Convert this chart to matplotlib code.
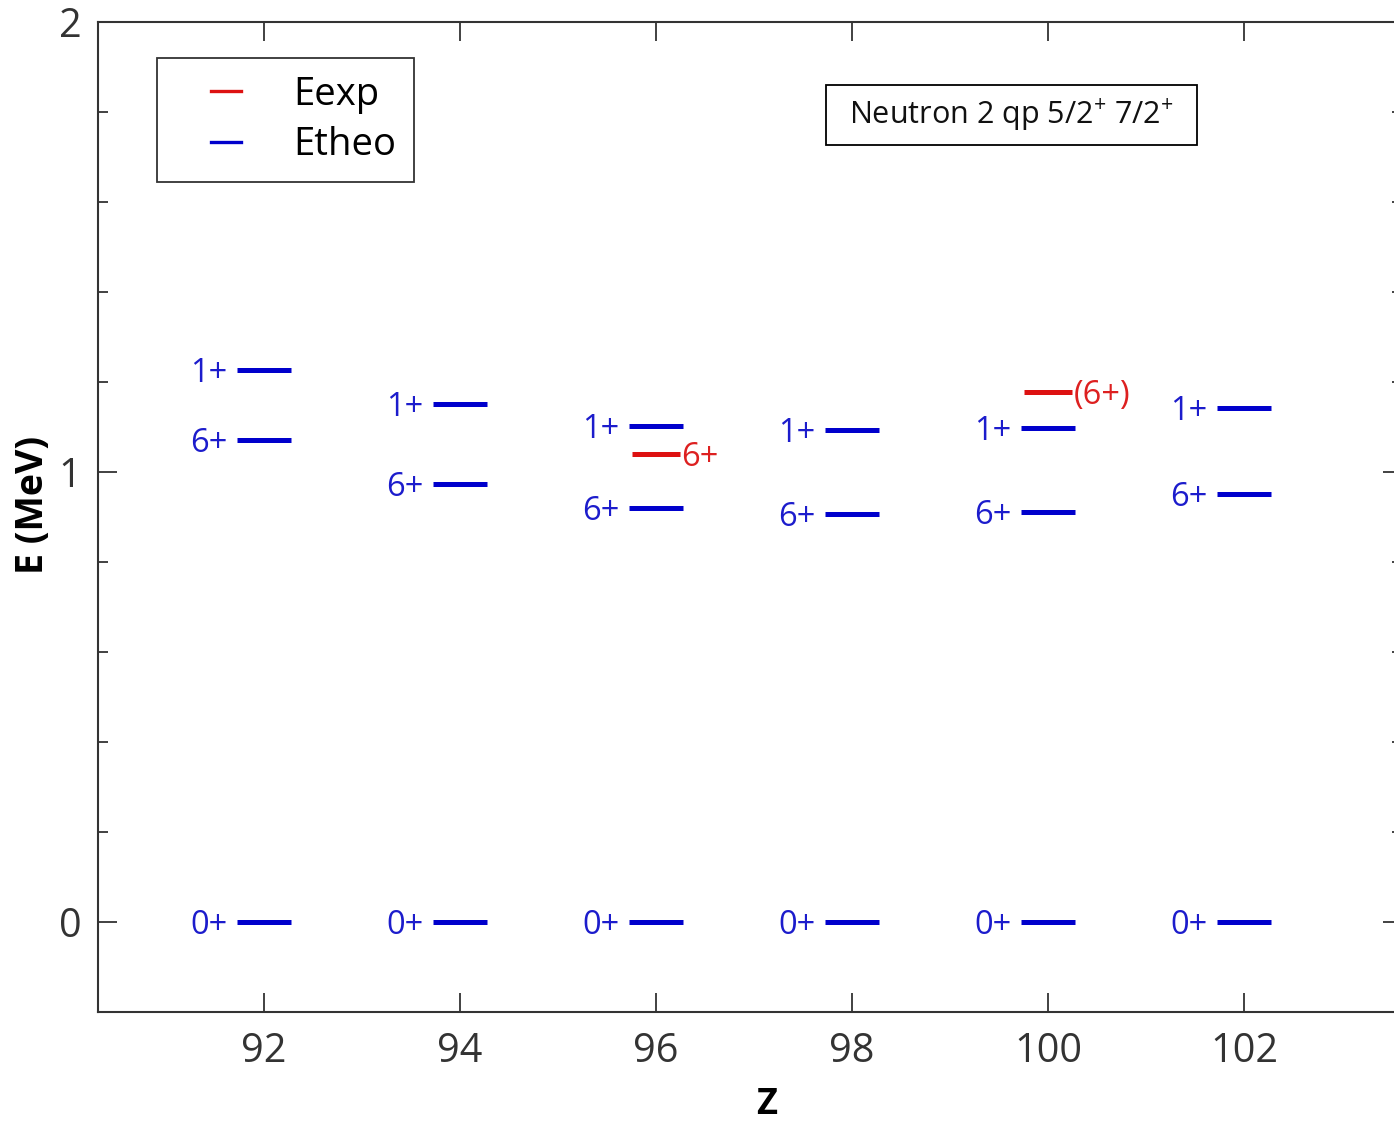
import matplotlib
matplotlib.use("Agg")
import matplotlib.pyplot as plt
from matplotlib.lines import Line2D
from matplotlib.patches import Rectangle
from matplotlib.legend_handler import HandlerBase
from matplotlib.ticker import MultipleLocator, FixedLocator

plt.rcParams['font.family'] = ['Open Sans', 'DejaVu Sans']
plt.rcParams['mathtext.fontset'] = 'custom'
plt.rcParams['mathtext.rm'] = 'Open Sans'

# ---- data ----
Z = [92, 94, 96, 98, 100, 102]
theo_0 = [0.0, 0.0, 0.0, 0.0, 0.0, 0.0]
theo_6 = [1.071, 0.973, 0.920, 0.907, 0.911, 0.951]
theo_1 = [1.227, 1.151, 1.102, 1.093, 1.098, 1.142]
theo_labels = ['0+', '6+', '1+']
exp_Z = [96, 100]
exp_E = [1.040, 1.178]
exp_labels = ['6+', '(6+)']
xticks = [92, 94, 96, 98, 100, 102]
yticks = [0, 1, 2]
title_text = r'Neutron 2 qp 5/2$^{+}$ 7/2$^{+}$'

blue = '#0000cc'
blue_txt = '#1c1ccc'
red = '#dd1111'
red_txt = '#dd2020'
gray = '#333333'


class ShortLineHandler(HandlerBase):
    def create_artists(self, legend, orig_handle, xdescent, ydescent,
                       width, height, fontsize, trans):
        y = height / 2.0 - ydescent
        x0 = -xdescent + 0.54 * width
        x1 = -xdescent + width
        line = Line2D([x0, x1], [y, y], color=orig_handle.get_color(),
                      linewidth=orig_handle.get_linewidth(), transform=trans)
        return [line]


fig = plt.figure(figsize=(13.94, 11.22), dpi=100)
ax = fig.add_axes([98/1394, 1-1012/1122, (1402-98)/1394, (1012-22)/1122])

hw_t = 0.275
hw_e = 0.245
for series, lab in zip([theo_0, theo_6, theo_1], theo_labels):
    ax.hlines(series, [z - hw_t for z in Z], [z + hw_t for z in Z],
              colors=blue, linewidth=3.6)
    for z, e in zip(Z, series):
        ax.annotate(lab, (z - hw_t, e), xytext=(-7, -2.5), textcoords='offset points',
                    ha='right', va='center', color=blue_txt, fontsize=23.5)

ax.hlines(exp_E, [z - hw_e for z in exp_Z], [z + hw_e for z in exp_Z],
          colors=red, linewidth=3.6)
for z, e, lab in zip(exp_Z, exp_E, exp_labels):
    ax.annotate(lab, (z + hw_e, e), xytext=(1, -2.5), textcoords='offset points',
                ha='left', va='center', color=red_txt, fontsize=23.5)

ax.set_xlim(90.306, 103.61)
ax.set_ylim(-0.2, 2.0)
ax.xaxis.set_major_locator(FixedLocator(xticks))
ax.yaxis.set_major_locator(FixedLocator(yticks))
ax.yaxis.set_minor_locator(MultipleLocator(0.2))
ax.tick_params(axis='both', which='major', direction='in', length=13.5, width=1.3,
               color=gray, labelcolor=gray, labelsize=28.5, pad=14,
               top=True, right=True)
ax.tick_params(axis='y', which='major', pad=12)
ax.tick_params(axis='y', which='minor', direction='in', length=7, width=1.3,
               color=gray, right=True)
ax.tick_params(axis='x', which='minor', bottom=False, top=False)
for s in ax.spines.values():
    s.set_color(gray)
    s.set_linewidth(1.5)

ax.set_xlabel('Z', fontsize=26, fontweight='bold', color='black')
ax.set_ylabel('E (MeV)', fontsize=27, fontweight='bold', color='black')
ax.xaxis.label.set_va('center')
ax.yaxis.label.set_va('center')
ax.xaxis.set_label_coords((767-98)/1304, -(1105-1012)/990)
ax.yaxis.set_label_coords(-(98-33)/1304, 1-(505-22)/990)

handles = [Line2D([], [], color=red, linewidth=2.4),
           Line2D([], [], color=blue, linewidth=2.4)]
leg = ax.legend(handles, ['Eexp', 'Etheo'], loc='upper left',
                bbox_to_anchor=((157-98)/1304, 1-(58-22)/990), borderaxespad=0,
                fontsize=27.5, handlelength=1.75, handletextpad=1.35,
                borderpad=0.46, labelspacing=0.33, frameon=True, fancybox=False,
                edgecolor='black', handler_map={Line2D: ShortLineHandler()})
leg.get_frame().set_linewidth(1.3)

# annotation box (frame drawn separately to match its proportions)
ax.add_patch(Rectangle(((826-98)/1304, 1-(145-22)/990), (1197-826)/1304, 60/990,
                       transform=ax.transAxes, facecolor='white', edgecolor='black',
                       linewidth=1.3, zorder=4))
ax.text((1011-98)/1304, 1-(115-22)/990, title_text, transform=ax.transAxes,
        ha='center', va='center', fontsize=22, color='#111111', zorder=5)

fig.savefig('out.png', dpi=100)
